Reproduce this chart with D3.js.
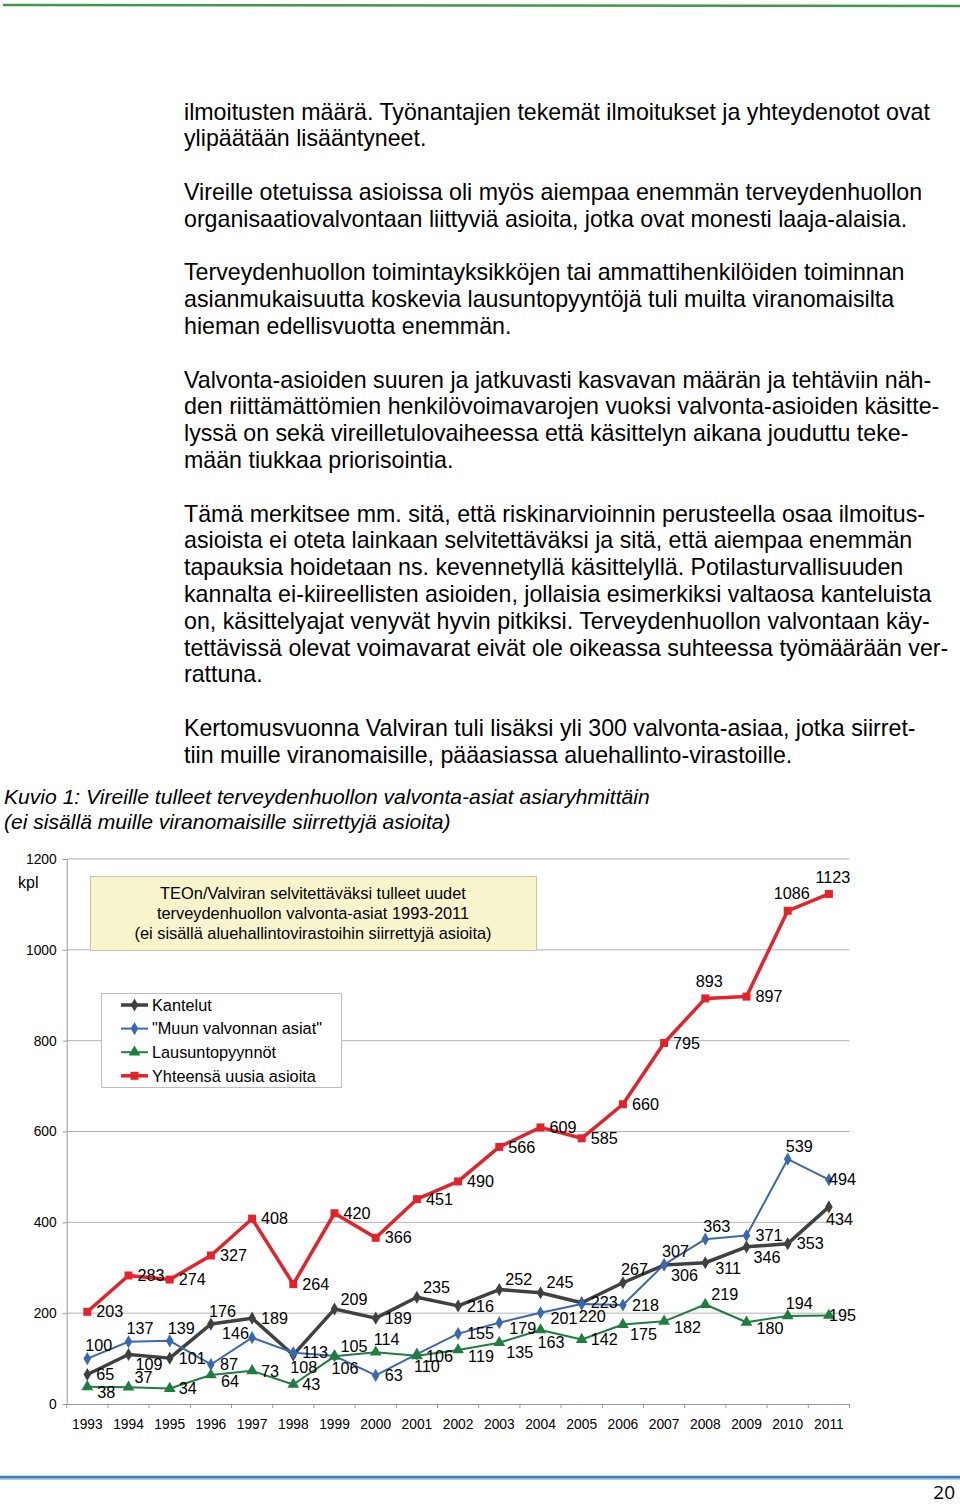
<!DOCTYPE html>
<html>
<head>
<meta charset="utf-8">
<script src="https://cdnjs.cloudflare.com/ajax/libs/d3/7.8.5/d3.min.js"></script>
<style>
  body { margin: 0; background: #fff; }
  svg { display: block; font-family: "Liberation Sans", Arial, sans-serif; }
</style>
</head>
<body>
<svg id="page" width="960" height="1504"></svg>
<script>
// chart data
var years = ["1993","1994","1995","1996","1997","1998","1999","2000","2001","2002",
             "2003","2004","2005","2006","2007","2008","2009","2010","2011"];
var kantelut = [65,109,101,176,189,108,209,189,235,216,252,245,223,267,306,311,346,353,434];
var muun = [100,137,139,87,146,113,106,63,110,155,179,201,220,218,307,363,371,539,494];
var lausunto = [38,37,34,64,73,43,105,114,106,119,135,163,142,175,182,219,180,194,195];
var yhteensa = [203,283,274,327,408,264,420,366,451,490,566,609,585,660,795,893,897,1086,1123];
var yTicks = [0,200,400,600,800,1000,1200];
var seriesNames = ["Kantelut", "\"Muun valvonnan asiat\"", "Lausuntopyynnöt", "Yhteensä uusia asioita"];

// where each data label sits relative to its point
var kanteluPos = ["r","br","r","a","r","b","ar","r","ar","r","ar","ar","r","a","br","rb","br","r","b"];
var muunPos = ["a","a","a","r","l","r","b","r","b","r","rb","rb","b","r","a","a","r","a","re"];
var lausuntoPos = ["rb","ar","r","rb","r","r","ar","a","r","rb","br","b","r","br","rb","ar","rb","a","re"];
var yhteensaPos = ["r","r","r","r","r","r","r","r","r","r","r","r","r","r","r","ac","r","ac","ac"];

var titleLines = ["TEOn/Valviran selvitettäväksi tulleet uudet",
                  "terveydenhuollon valvonta-asiat 1993-2011",
                  "(ei sisällä aluehallintovirastoihin siirrettyjä asioita)"];

var bodyParas = [
  ["ilmoitusten määrä. Työnantajien tekemät ilmoitukset ja yhteydenotot ovat",
   "ylipäätään lisääntyneet."],
  ["Vireille otetuissa asioissa oli myös aiempaa enemmän terveydenhuollon",
   "organisaatiovalvontaan liittyviä asioita, jotka ovat monesti laaja-alaisia."],
  ["Terveydenhuollon toimintayksikköjen tai ammattihenkilöiden toiminnan",
   "asianmukaisuutta koskevia lausuntopyyntöjä tuli muilta viranomaisilta",
   "hieman edellisvuotta enemmän."],
  ["Valvonta-asioiden suuren ja jatkuvasti kasvavan määrän ja tehtäviin näh-",
   "den riittämättömien henkilövoimavarojen vuoksi valvonta-asioiden käsitte-",
   "lyssä on sekä vireilletulovaiheessa että käsittelyn aikana jouduttu teke-",
   "mään tiukkaa priorisointia."],
  ["Tämä merkitsee mm. sitä, että riskinarvioinnin perusteella osaa ilmoitus-",
   "asioista ei oteta lainkaan selvitettäväksi ja sitä, että aiempaa enemmän",
   "tapauksia hoidetaan ns. kevennetyllä käsittelyllä. Potilasturvallisuuden",
   "kannalta ei-kiireellisten asioiden, jollaisia esimerkiksi valtaosa kanteluista",
   "on, käsittelyajat venyvät hyvin pitkiksi. Terveydenhuollon valvontaan käy-",
   "tettävissä olevat voimavarat eivät ole oikeassa suhteessa työmäärään ver-",
   "rattuna."],
  ["Kertomusvuonna Valviran tuli lisäksi yli 300 valvonta-asiaa, jotka siirret-",
   "tiin muille viranomaisille, pääasiassa aluehallinto-virastoille."]
];
var captionLines = ["Kuvio 1: Vireille tulleet terveydenhuollon valvonta-asiat asiaryhmittäin",
                    "(ei sisällä muille viranomaisille siirrettyjä asioita)"];

var svg = d3.select("#page");

// page decorations
svg.append("line").attr("x1", 3).attr("x2", 960).attr("y1", 5).attr("y2", 6)
  .attr("stroke", "#3f9a45").attr("stroke-width", 2.5);
svg.append("line").attr("x1", 0).attr("x2", 960).attr("y1", 1478).attr("y2", 1478)
  .attr("stroke", "#a9cde6").attr("stroke-width", 4);
svg.append("line").attr("x1", 0).attr("x2", 960).attr("y1", 1477).attr("y2", 1477)
  .attr("stroke", "#3b7db2").attr("stroke-width", 2.5);
svg.append("text").attr("x", 955).attr("y", 1499).attr("text-anchor", "end")
  .style("font-family", "'Open Sans', sans-serif").style("font-size", "19px")
  .text("20");

// body text
var lineH = 26.8, by = 119.5;
bodyParas.forEach(function (p) {
  p.forEach(function (l) {
    svg.append("text").attr("x", 184).attr("y", by)
      .style("font-size", "23.2px").attr("fill", "#000").text(l);
    by += lineH;
  });
  by += lineH;
});

captionLines.forEach(function (l, i) {
  svg.append("text").attr("x", 4).attr("y", 804 + i * 24.5)
    .style("font-size", "21.1px").style("font-style", "italic").text(l);
});

// chart
var x = d3.scaleBand().domain(years).range([66.7, 849.5]);
var y = d3.scaleLinear().domain([0, 1200]).range([1404, 859]);
var cx = function (i) { return x(years[i]) + x.bandwidth() / 2; };

var grid = svg.append("g");
grid.selectAll("line").data(yTicks.filter(function (t) { return t > 0; })).enter()
  .append("line")
  .attr("x1", 66.7).attr("x2", 849.5)
  .attr("y1", function (d) { return y(d); }).attr("y2", function (d) { return y(d); })
  .attr("stroke", "#b3b3b3").attr("stroke-width", 1);

var yAxis = svg.append("g").attr("transform", "translate(66.7,0)")
  .call(d3.axisLeft(y).tickValues(yTicks).tickSize(4).tickPadding(6).tickFormat(d3.format("d")));
yAxis.select(".domain").attr("stroke", "#999");
yAxis.selectAll(".tick line").attr("stroke", "#999");
yAxis.selectAll("text").style("font-size", "13.8px").style("font-family", "'Liberation Sans', Arial, sans-serif").attr("fill", "#000");

var xAxis = svg.append("g").attr("transform", "translate(0,1404)")
  .call(d3.axisBottom(x).tickSize(0).tickPadding(15));
xAxis.select(".domain").attr("stroke", "#999");
xAxis.selectAll("text").style("font-size", "13.8px").style("font-family", "'Liberation Sans', Arial, sans-serif").attr("fill", "#000");
// tick marks on category boundaries
xAxis.selectAll(".bnd").data(years.concat(["end"])).enter().append("line")
  .attr("x1", function (d, i) { return 66.7 + i * x.bandwidth(); })
  .attr("x2", function (d, i) { return 66.7 + i * x.bandwidth(); })
  .attr("y1", 0).attr("y2", 4).attr("stroke", "#999");

svg.append("text").attr("x", 18).attr("y", 888).style("font-size", "16px").text("kpl");

// title box
svg.append("rect").attr("x", 90.5).attr("y", 876.5).attr("width", 446).attr("height", 74)
  .attr("fill", "#f8f4cc").attr("stroke", "#c9c7a6");
titleLines.forEach(function (l, i) {
  svg.append("text").attr("x", 313).attr("y", 899 + i * 20).attr("text-anchor", "middle")
    .style("font-size", "16.4px").text(l);
});

var series = [
  { name: seriesNames[0], vals: kantelut, pos: kanteluPos, color: "#404040", width: 3.5, sym: d3.symbolDiamond, size: 50 },
  { name: seriesNames[1], vals: muun, pos: muunPos, color: "#3a68b0", width: 2, sym: d3.symbolDiamond, size: 50 },
  { name: seriesNames[2], vals: lausunto, pos: lausuntoPos, color: "#1f7d3e", width: 2, sym: d3.symbolTriangle, size: 60 },
  { name: seriesNames[3], vals: yhteensa, pos: yhteensaPos, color: "#e3222a", width: 3.5, sym: d3.symbolSquare, size: 64 }
];

var line = d3.line().x(function (d, i) { return cx(i); }).y(function (d) { return y(d); });

series.forEach(function (s) {
  var g = svg.append("g");
  g.append("path").attr("d", line(s.vals)).attr("fill", "none")
    .attr("stroke", s.color).attr("stroke-width", s.width).attr("stroke-linejoin", "round");
  g.selectAll("path.m").data(s.vals).enter().append("path").attr("class", "m")
    .attr("d", d3.symbol().type(s.sym).size(s.size))
    .attr("transform", function (d, i) { return "translate(" + cx(i) + "," + y(d) + ")"; })
    .attr("fill", s.color);
});

var offs = {
  r: [9, 0, "start"], rb: [10, 6, "start"], br: [7, 10, "start"], b: [-3, 12, "start"],
  a: [-2, -13, "start"], ar: [6, -10, "start"], l: [-3, -4, "end"], re: [0, 0, "start"],
  ac: [4, -17, "middle"]
};
series.forEach(function (s) {
  svg.append("g").selectAll("text").data(s.vals).enter().append("text")
    .attr("x", function (d, i) { return cx(i) + offs[s.pos[i]][0]; })
    .attr("y", function (d, i) { return y(d) + offs[s.pos[i]][1]; })
    .attr("dy", "0.35em")
    .attr("text-anchor", function (d, i) { return offs[s.pos[i]][2]; })
    .style("font-size", "16.2px")
    .text(function (d) { return d; });
});

// legend
var lg = svg.append("g");
lg.append("rect").attr("x", 101.5).attr("y", 993.5).attr("width", 240).attr("height", 94)
  .attr("fill", "#fff").attr("stroke", "#bdbdbd");
series.forEach(function (s, i) {
  var ly = 1005 + i * 23.6;
  lg.append("line").attr("x1", 121).attr("x2", 148).attr("y1", ly).attr("y2", ly)
    .attr("stroke", s.color).attr("stroke-width", s.width);
  lg.append("path").attr("d", d3.symbol().type(s.sym).size(s.size))
    .attr("transform", "translate(134.5," + ly + ")").attr("fill", s.color);
  lg.append("text").attr("x", 152).attr("y", ly).attr("dy", "0.35em")
    .style("font-size", "16.3px").text(s.name);
});
</script>
</body>
</html>
